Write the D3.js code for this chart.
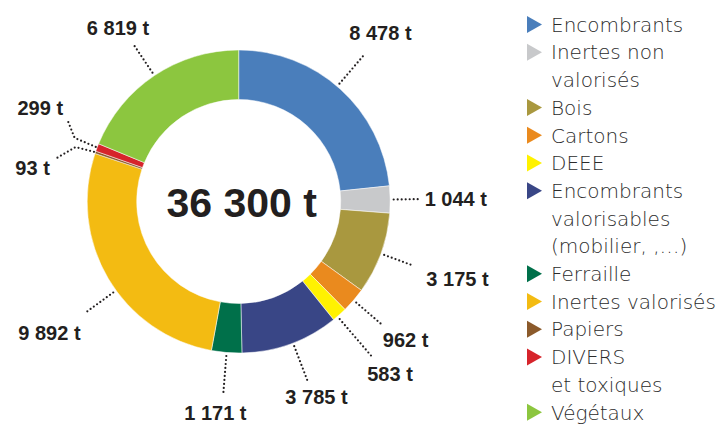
<!DOCTYPE html>
<html>
<head>
<meta charset="utf-8">
<script src="https://cdnjs.cloudflare.com/ajax/libs/d3/7.8.5/d3.min.js"></script>
<style>
  html, body { margin: 0; padding: 0; background: #fff; overflow: hidden; }
</style>
</head>
<body>
<div id="chart"></div>
<script>
// Data (slices go clockwise from 12 o'clock)
var categories = ['Encombrants', 'Inertes non valorisés', 'Bois', 'Cartons', 'DEEE',
  'Encombrants valorisables (mobilier, ,…)', 'Ferraille', 'Inertes valorisés', 'Papiers',
  'DIVERS et toxiques', 'Végétaux'];
var tonnages = [8478, 1044, 3175, 962, 583, 3785, 1171, 9892, 93, 299, 6819];
var valueLabels = ['8 478 t', '1 044 t', '3 175 t', '962 t', '583 t', '3 785 t',
  '1 171 t', '9 892 t', '93 t', '299 t', '6 819 t'];
var legendLines = [['Encombrants'], ['Inertes non', 'valorisés'], ['Bois'], ['Cartons'], ['DEEE'],
  ['Encombrants', 'valorisables', '(mobilier, ,…)'], ['Ferraille'], ['Inertes valorisés'],
  ['Papiers'], ['DIVERS', 'et toxiques'], ['Végétaux']];
var sliceColors = ['#4a7ebb', '#c8c9cb', '#a9983f', '#ea8a1e', '#fff200', '#394686',
  '#00704a', '#f3bb12', '#8b5a2b', '#d6242b', '#8cc63f'];
var totalLabel = '36 300 t';

// Leader line shapes: points as [angle shift in degrees, radius], text offset from last point
var leaderLayout = [
  { pts: [[-1.5, 155], [-1.5, 195]], dx: 15, dy: -13, anchor: 'middle' },
  { pts: [[0, 155], [0, 181]], dx: 5, dy: 7, anchor: 'start' },
  { pts: [[0, 155], [0, 185]], dx: 14, dy: 21, anchor: 'start' },
  { pts: [[0, 155], [0, 190]], dx: 0, dy: 22, anchor: 'start' },
  { pts: [[1, 155], [1, 205]], dx: -5, dy: 24, anchor: 'start' },
  { pts: [[-1, 155], [-1, 192]], dx: 9, dy: 23, anchor: 'middle' },
  { pts: [[0, 155], [0, 192]], dx: -8, dy: 27, anchor: 'middle' },
  { pts: [[-5.4, 155], [-5.4, 188]], dx: -6, dy: 28, anchor: 'end' },
  { pts: [[0, 153], [-0.5, 172], [-5.5, 187]], dx: -7, dy: 17, anchor: 'end' },
  { pts: [[0, 153], [0.3, 176], [4.8, 190.5]], dx: -4, dy: -4, anchor: 'end' },
  { pts: [[0, 155], [0, 190]], dx: -15, dy: -9, anchor: 'middle' }
];

function Chart() {
  var attrs = {
    svgWidth: 723,
    svgHeight: 425,
    centerX: 238.7,
    centerY: 201.5,
    outerRadius: 151.5,
    innerRadius: 102,
    container: 'body',
    defaultTextFill: '#231f20',
    defaultFont: "'Liberation Sans', Arial, sans-serif",
    legendFont: "'DejaVu Sans', sans-serif",
    legendX: 527,
    legendTop: 24.5,
    legendLineHeight: 27.7
  };

  var main = function () {
    var container = d3.select(attrs.container);

    var svg = container.patternify({ tag: 'svg', selector: 'svg-chart-container' })
      .attr('width', attrs.svgWidth)
      .attr('height', attrs.svgHeight)
      .attr('font-family', attrs.defaultFont);

    var color = d3.scaleOrdinal().domain(categories).range(sliceColors);

    var pie = d3.pie().sort(null).value((d) => d.value);
    var arcs = pie(categories.map((c, i) => ({ name: c, value: tonnages[i], label: valueLabels[i], layout: leaderLayout[i] })));

    var arc = d3.arc().innerRadius(attrs.innerRadius).outerRadius(attrs.outerRadius);

    var chart = svg.patternify({ tag: 'g', selector: 'donut' })
      .attr('transform', 'translate(' + attrs.centerX + ',' + attrs.centerY + ')');

    chart.patternify({ tag: 'path', selector: 'slice', data: arcs })
      .attr('d', arc)
      .attr('fill', (d) => color(d.data.name))
      .attr('stroke', '#fff')
      .attr('stroke-width', 0.5);

    // polar point helper, angle from 12 o'clock clockwise
    function polar(a, r) {
      return [r * Math.sin(a), -r * Math.cos(a)];
    }

    var leaderPts = function (d) {
      var mid = (d.startAngle + d.endAngle) / 2;
      return d.data.layout.pts.map((p) => polar(mid + p[0] * Math.PI / 180, p[1]));
    };

    chart.patternify({ tag: 'path', selector: 'leader', data: arcs })
      .attr('d', (d) => d3.line()(leaderPts(d)))
      .attr('fill', 'none')
      .attr('stroke', '#231f20')
      .attr('stroke-width', 2.2)
      .attr('stroke-linecap', 'round')
      .attr('stroke-dasharray', '0,4');

    chart.patternify({ tag: 'text', selector: 'value-label', data: arcs })
      .text((d) => d.data.label)
      .attr('x', (d) => { var p = leaderPts(d); return p[p.length - 1][0] + d.data.layout.dx; })
      .attr('y', (d) => { var p = leaderPts(d); return p[p.length - 1][1] + d.data.layout.dy; })
      .attr('text-anchor', (d) => d.data.layout.anchor)
      .attr('font-size', 20)
      .attr('font-weight', 'bold')
      .attr('fill', attrs.defaultTextFill);

    chart.patternify({ tag: 'text', selector: 'total-label', data: [totalLabel] })
      .text((d) => d)
      .attr('x', 3)
      .attr('y', 15.5)
      .attr('text-anchor', 'middle')
      .attr('font-size', 41)
      .attr('font-weight', 'bold')
      .attr('fill', attrs.defaultTextFill);

    // Legend
    var rows = [];
    var line = 0;
    legendLines.forEach((lines, i) => {
      rows.push({ name: categories[i], lines: lines, start: line });
      line += lines.length;
    });

    var legend = svg.patternify({ tag: 'g', selector: 'legend' })
      .attr('transform', 'translate(' + attrs.legendX + ',' + attrs.legendTop + ')');

    var items = legend.patternify({ tag: 'g', selector: 'legend-item', data: rows })
      .attr('transform', (d) => 'translate(0,' + d.start * attrs.legendLineHeight + ')');

    items.patternify({ tag: 'path', selector: 'legend-mark', data: (d) => [d] })
      .attr('d', 'M0,-8.5L15,0L0,8.5Z')
      .attr('fill', (d) => color(d.name));

    items.patternify({ tag: 'text', selector: 'legend-text', data: (d) => d.lines.map((t, j) => ({ t: t, j: j })) })
      .text((d) => d.t)
      .attr('x', 24)
      .attr('y', (d) => d.j * attrs.legendLineHeight)
      .attr('dy', '0.36em')
      .attr('font-family', attrs.legendFont)
      .attr('font-size', 20)
      .attr('font-weight', 300)
      .attr('fill', '#2b2b2b');
  };

  d3.selection.prototype.patternify = function (params) {
    var container = this;
    var selector = params.selector;
    var elementTag = params.tag;
    var data = params.data || [selector];

    var selection = container.selectAll('.' + selector).data(data, (d, i) => i);
    selection.exit().remove();
    selection = selection.enter().append(elementTag).merge(selection);
    selection.attr('class', selector);
    return selection;
  };

  main.render = function () {
    main();
    return main;
  };

  return main;
}

Chart().render();
</script>
</body>
</html>
